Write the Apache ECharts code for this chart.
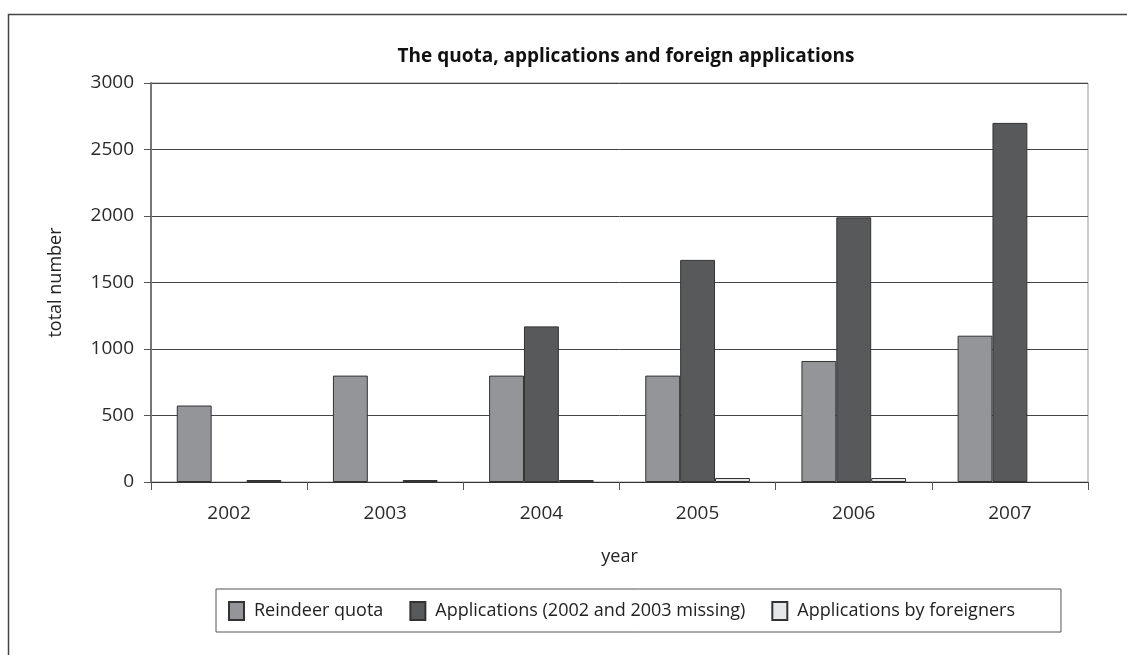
<!DOCTYPE html>
<html>
<head>
<meta charset="utf-8">
<script src="https://cdn.jsdelivr.net/npm/echarts@6/dist/echarts.min.js"></script>
<style>
  html, body { margin: 0; padding: 0; background: #fff; }
  #chart { width: 1127px; height: 655px; }
</style>
</head>
<body>
<div id="chart"></div>
<script>
// data
const years = ['2002', '2003', '2004', '2005', '2006', '2007'];
const quota = [575, 800, 800, 800, 910, 1100];
const applications = [null, null, 1170, 1670, 1990, 2700];
const foreigners = [15, 15, 15, 30, 30, null];
const yTicks = [0, 500, 1000, 1500, 2000, 2500, 3000];

const font = '"Open Sans", "DejaVu Sans", sans-serif';
const chart = echarts.init(document.getElementById('chart'));

function barSeries (name, data, color) {
  return {
    name: name,
    type: 'bar',
    data: data,
    barGap: '0%',
    barCategoryGap: '33%',
    itemStyle: { color: color, borderColor: '#333', borderWidth: 1 }
  };
}

const option = {
  animation: false,
  textStyle: { fontFamily: font },
  title: {
    text: 'The quota, applications and foreign applications',
    left: 621,
    textAlign: 'center',
    top: 42,
    textStyle: { fontSize: 19, fontWeight: 'bold', color: '#111', fontFamily: font }
  },
  graphic: [{
    type: 'rect',
    shape: { x: 8.5, y: 14.5, width: 1200, height: 700 },
    style: { fill: 'none', stroke: '#444', lineWidth: 1.5 },
    silent: true
  }],
  grid: {
    left: 151, right: 39, top: 83, bottom: 173,
    show: true, borderColor: '#999', borderWidth: 1
  },
  legend: {
    left: 216, top: 589,
    padding: [12, 46, 11, 12],
    itemWidth: 15, itemHeight: 18, itemGap: 26,
    borderColor: '#555', borderWidth: 1,
    textStyle: { fontSize: 18, color: '#222', fontFamily: font, padding: [0, 0, 0, 5] },
    icon: 'rect'
  },
  xAxis: {
    type: 'category',
    data: years,
    name: 'year',
    nameLocation: 'middle',
    nameGap: 66,
    nameTextStyle: { fontSize: 18, color: '#222' },
    axisLine: { lineStyle: { color: '#333', width: 1 } },
    axisTick: { show: true, length: 8, lineStyle: { color: '#555' } },
    axisLabel: { fontSize: 19, color: '#2a2a2a', margin: 22 }
  },
  yAxis: {
    type: 'value',
    min: 0, max: 3000, interval: 500,
    name: 'total number',
    nameLocation: 'middle',
    nameGap: 86,
    nameTextStyle: { fontSize: 18, color: '#222' },
    axisLine: { show: true, lineStyle: { color: '#777', width: 2 } },
    axisTick: { show: true, length: 7, lineStyle: { color: '#555' } },
    axisLabel: {
      fontSize: 19, color: '#2a2a2a', margin: 17,
      formatter: v => (yTicks.includes(v) ? String(v) : '')
    },
    splitLine: { lineStyle: { color: '#444', width: 1 } }
  },
  series: [
    barSeries('Reindeer quota', quota, '#939598'),
    barSeries('Applications (2002 and 2003 missing)', applications, '#58595b'),
    barSeries('Applications by foreigners', foreigners, '#e6e7e8')
  ]
};

chart.setOption(option);
</script>
</body>
</html>
